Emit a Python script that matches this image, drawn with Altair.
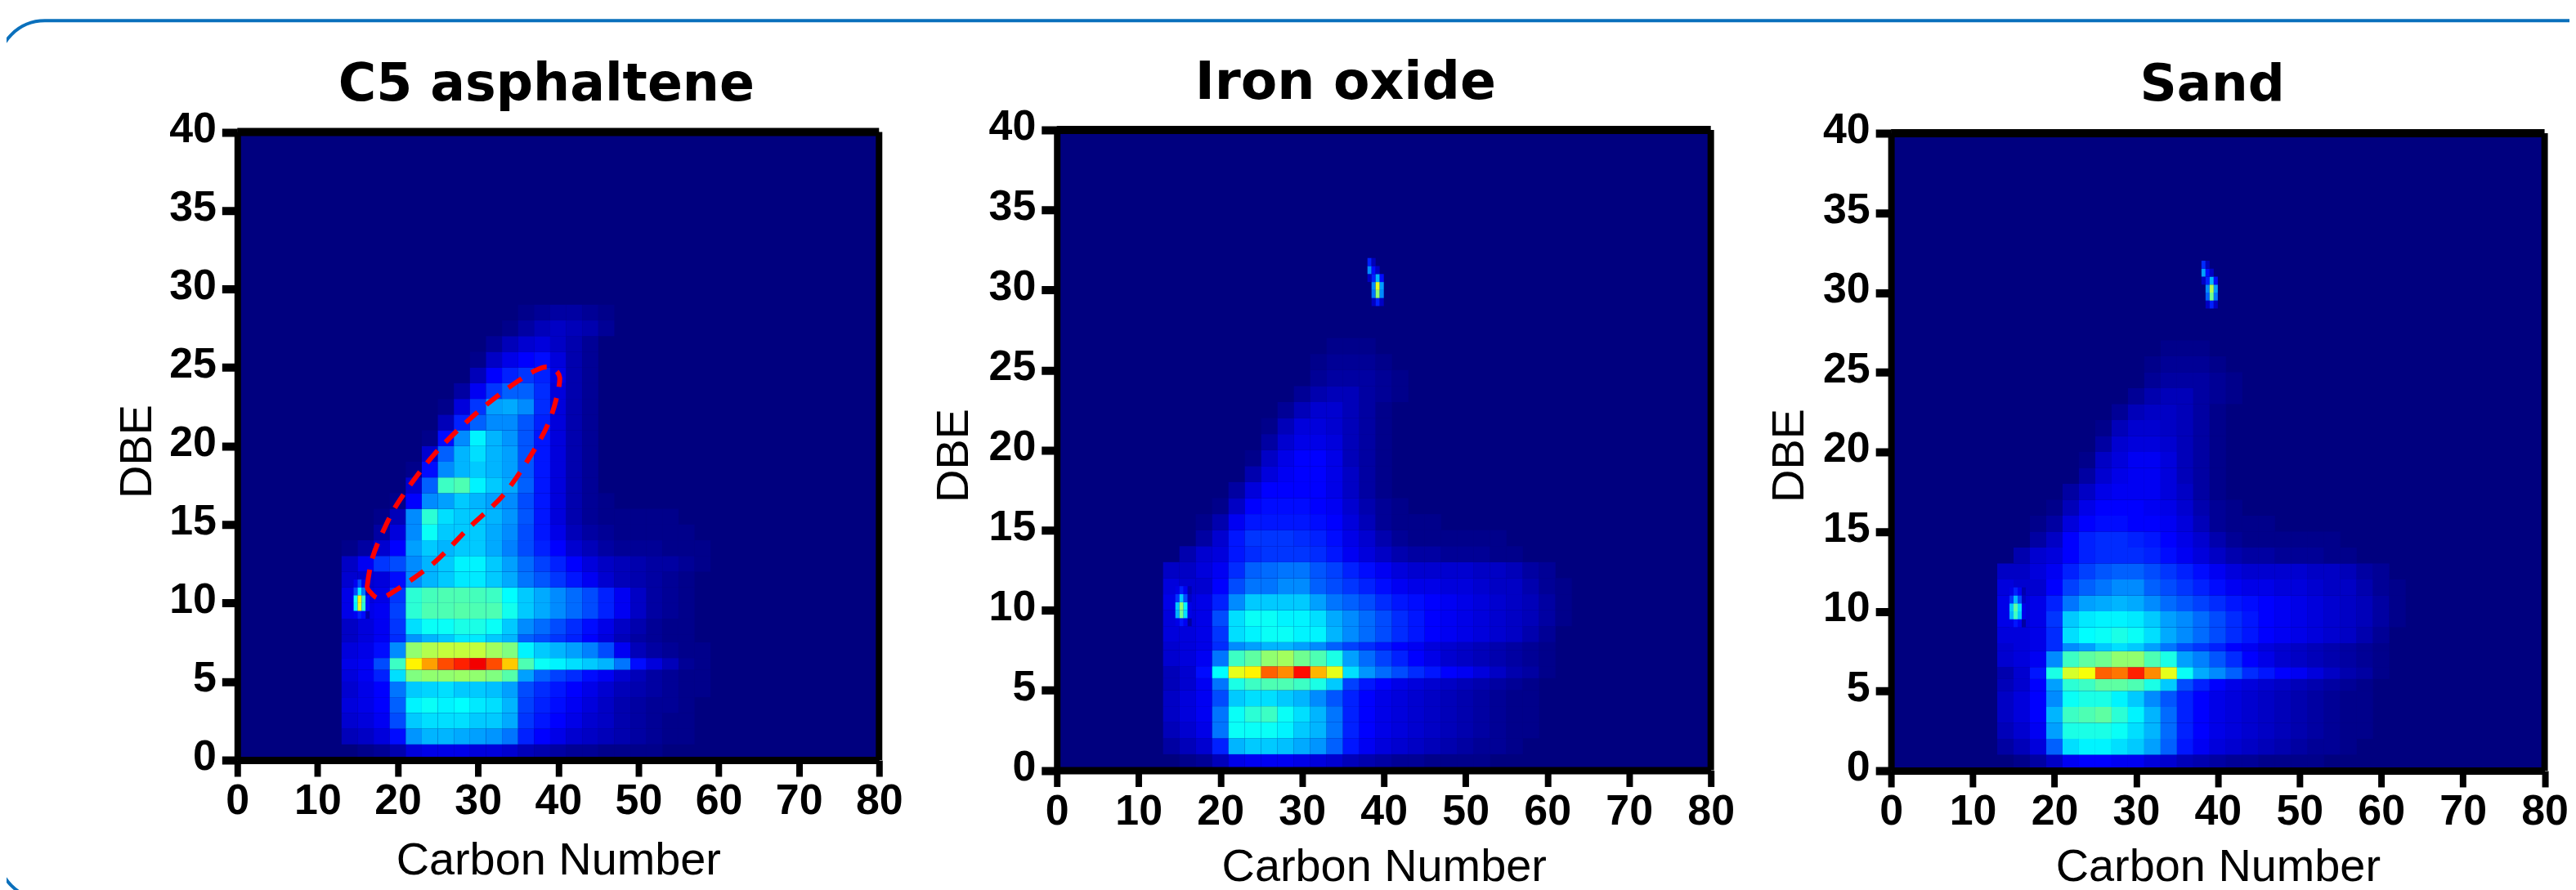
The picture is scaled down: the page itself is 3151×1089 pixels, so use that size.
import altair as alt
import pandas as pd

panel_titles = ["C5 asphaltene", "Iron oxide", "Sand"]
x_ticks = [0, 10, 20, 30, 40, 50, 60, 70, 80]
y_ticks = [0, 5, 10, 15, 20, 25, 30, 35, 40]

carbon_edges = list(range(13, 65, 2))
dbe_edges = [0, 1, 2, 3, 4, 5, 5.75, 6.5, 7.5, 8, 9, 10, 11, 12, 13, 14, 15, 16, 17, 18, 19, 20, 21, 22, 23, 24, 25, 26, 27, 28, 29]

asphaltene_rows = [
    [0, 1, 2, 4, 8, 9, 9, 9, 8, 8, 7, 5, 4, 3, 2, 2, 1, 1, 1, 1],
    [5, 6, 8, 12, 25, 28, 28, 27, 26, 25, 22, 14, 11, 9, 7, 6, 5, 4, 3, 2, 1, 1],
    [7, 8, 10, 18, 30, 32, 32, 32, 30, 30, 27, 16, 13, 11, 9, 7, 6, 4, 3, 2, 1, 1],
    [8, 9, 11, 20, 34, 36, 34, 35, 33, 32, 28, 17, 14, 12, 10, 8, 6, 4, 3, 2, 2, 1],
    [7, 9, 11, 22, 30, 31, 32, 30, 30, 29, 26, 18, 15, 13, 11, 9, 7, 5, 4, 3, 2, 1, 1],
    [8, 10, 14, 32, 50, 52, 52, 53, 52, 50, 45, 26, 20, 17, 15, 12, 10, 7, 5, 3, 2, 1, 1],
    [9, 10, 18, 42, 66, 74, 82, 86, 90, 82, 70, 44, 36, 34, 32, 30, 28, 22, 12, 8, 5, 2, 1],
    [8, 9, 12, 24, 52, 56, 58, 58, 58, 54, 50, 34, 30, 28, 26, 23, 18, 10, 5, 3, 2, 1, 1],
    [6, 8, 10, 15, 25, 28, 30, 33, 33, 30, 28, 20, 18, 16, 14, 11, 8, 5, 3, 2, 1, 1],
    [6, 8, 10, 16, 32, 36, 36, 38, 38, 36, 30, 24, 21, 18, 15, 12, 9, 6, 4, 2, 1, 1],
    [9, 9, 10, 17, 40, 44, 44, 45, 44, 44, 37, 30, 27, 24, 21, 18, 14, 10, 6, 3, 2, 1],
    [9, 8, 9, 16, 40, 43, 44, 44, 43, 42, 35, 30, 27, 24, 21, 18, 14, 10, 6, 3, 2, 1],
    [7, 7, 8, 12, 24, 28, 30, 33, 33, 30, 27, 22, 19, 16, 13, 10, 7, 5, 4, 3, 2, 1],
    [6, 10, 16, 18, 24, 28, 30, 34, 34, 30, 26, 21, 17, 14, 11, 8, 6, 5, 4, 3, 3, 2, 1],
    [1, 3, 7, 11, 26, 30, 28, 30, 30, 27, 23, 18, 14, 11, 7, 5, 3, 2, 2, 2, 1, 1, 1],
    [0, 0, 3, 8, 24, 36, 30, 30, 30, 27, 24, 18, 13, 9, 5, 3, 2, 1, 1, 1, 1, 1],
    [0, 0, 1, 5, 24, 40, 32, 30, 30, 28, 25, 19, 13, 8, 4, 2, 1, 1, 1, 1, 1],
    [0, 0, 0, 1, 11, 24, 26, 30, 28, 26, 24, 18, 13, 8, 4, 2, 1],
    [0, 0, 0, 0, 7, 20, 42, 44, 34, 30, 27, 20, 13, 8, 4, 2],
    [0, 0, 0, 0, 1, 12, 24, 28, 30, 28, 26, 19, 13, 8, 4, 2],
    [0, 0, 0, 0, 0, 7, 20, 28, 32, 28, 26, 19, 13, 8, 4, 2],
    [0, 0, 0, 0, 0, 1, 12, 24, 34, 28, 25, 19, 13, 8, 4, 2],
    [0, 0, 0, 0, 0, 0, 5, 14, 20, 24, 24, 19, 14, 8, 4, 2],
    [0, 0, 0, 0, 0, 0, 1, 8, 16, 26, 27, 24, 15, 8, 4, 2],
    [0, 0, 0, 0, 0, 0, 0, 3, 10, 16, 20, 20, 15, 8, 4, 2],
    [0, 0, 0, 0, 0, 0, 0, 0, 5, 11, 14, 16, 14, 9, 4, 2],
    [0, 0, 0, 0, 0, 0, 0, 0, 1, 6, 9, 11, 12, 8, 4, 2],
    [0, 0, 0, 0, 0, 0, 0, 0, 0, 2, 5, 7, 8, 6, 4, 2],
    [0, 0, 0, 0, 0, 0, 0, 0, 0, 0, 1, 3, 5, 6, 5, 4, 2],
    [0, 0, 0, 0, 0, 0, 0, 0, 0, 0, 0, 1, 2, 3, 3, 2, 1],
]

iron_rows = [
    [0, 1, 2, 5, 9, 10, 10, 10, 9, 8, 7, 5, 4, 3, 2, 2, 1, 1, 1, 1],
    [3, 5, 7, 14, 28, 30, 30, 29, 27, 25, 20, 13, 10, 8, 7, 6, 5, 4, 3, 2, 2, 1],
    [5, 7, 9, 22, 36, 36, 36, 34, 30, 28, 22, 14, 11, 9, 8, 7, 6, 5, 4, 3, 2, 1, 1],
    [6, 8, 10, 22, 36, 40, 42, 36, 32, 28, 22, 14, 11, 9, 8, 7, 6, 5, 4, 3, 2, 1, 1],
    [6, 8, 10, 18, 30, 32, 32, 30, 28, 24, 19, 14, 11, 9, 8, 7, 6, 5, 4, 3, 2, 1, 1],
    [5, 7, 10, 22, 38, 42, 44, 44, 42, 38, 30, 17, 13, 11, 9, 8, 7, 6, 5, 4, 3, 2, 1],
    [5, 7, 12, 35, 62, 66, 80, 76, 88, 72, 62, 32, 25, 21, 18, 15, 13, 11, 10, 8, 6, 4, 3, 1],
    [7, 8, 10, 22, 42, 46, 52, 54, 48, 44, 38, 26, 21, 17, 14, 11, 9, 7, 6, 5, 4, 3, 2, 1],
    [7, 8, 9, 15, 24, 26, 28, 28, 26, 24, 20, 17, 15, 13, 11, 10, 8, 7, 6, 5, 4, 3, 2, 1],
    [8, 8, 9, 16, 32, 34, 36, 36, 34, 34, 28, 24, 21, 18, 15, 13, 11, 10, 9, 8, 7, 6, 4, 2],
    [8, 8, 9, 18, 32, 36, 36, 34, 34, 32, 27, 24, 21, 18, 15, 13, 11, 10, 9, 8, 7, 6, 5, 3, 1],
    [9, 8, 9, 14, 24, 30, 30, 30, 30, 26, 22, 20, 18, 15, 13, 12, 11, 10, 9, 8, 7, 6, 5, 3, 1],
    [8, 7, 7, 11, 18, 22, 22, 24, 24, 20, 18, 16, 14, 12, 10, 9, 9, 8, 8, 7, 6, 6, 4, 2, 1],
    [6, 6, 8, 10, 15, 20, 21, 22, 22, 19, 17, 14, 12, 10, 8, 7, 7, 7, 7, 6, 6, 5, 3, 2],
    [0, 4, 7, 8, 13, 15, 16, 16, 16, 15, 13, 10, 8, 6, 4, 3, 3, 2, 2, 2, 1, 1],
    [0, 0, 3, 7, 13, 16, 16, 16, 15, 14, 12, 9, 7, 4, 2, 1, 1, 1, 1, 1, 1],
    [0, 0, 1, 4, 10, 13, 13, 13, 13, 12, 11, 8, 5, 2, 1, 1, 1],
    [0, 0, 0, 1, 6, 11, 12, 12, 12, 11, 10, 7, 4, 2, 1],
    [0, 0, 0, 0, 3, 8, 11, 11, 11, 11, 9, 6, 3, 1],
    [0, 0, 0, 0, 0, 4, 8, 10, 11, 11, 9, 6, 3, 1],
    [0, 0, 0, 0, 0, 1, 6, 9, 11, 11, 9, 5, 3, 1],
    [0, 0, 0, 0, 0, 0, 3, 7, 9, 9, 8, 5, 3, 1],
    [0, 0, 0, 0, 0, 0, 1, 5, 8, 8, 7, 5, 3, 1],
    [0, 0, 0, 0, 0, 0, 0, 2, 5, 7, 7, 5, 3, 1],
    [0, 0, 0, 0, 0, 0, 0, 0, 2, 4, 5, 5, 3, 2, 1],
    [0, 0, 0, 0, 0, 0, 0, 0, 0, 2, 3, 3, 3, 2, 1],
    [0, 0, 0, 0, 0, 0, 0, 0, 0, 1, 2, 2, 2, 1],
    [0, 0, 0, 0, 0, 0, 0, 0, 0, 0, 1, 1, 1],
    [],
    [],
]

sand_rows = [
    [0, 1, 3, 6, 10, 11, 11, 10, 10, 8, 7, 5, 4, 3, 2, 2, 1, 1, 1, 1],
    [3, 5, 8, 20, 32, 34, 34, 32, 30, 26, 20, 13, 10, 8, 7, 6, 5, 4, 3, 2, 2, 1],
    [5, 7, 10, 26, 38, 38, 38, 36, 32, 28, 21, 14, 11, 9, 8, 7, 6, 5, 4, 3, 2, 1, 1],
    [6, 8, 11, 28, 42, 44, 46, 40, 34, 28, 21, 14, 11, 9, 8, 7, 6, 5, 4, 3, 2, 1, 1],
    [6, 8, 11, 24, 36, 38, 38, 34, 30, 24, 19, 14, 11, 9, 8, 7, 6, 5, 4, 3, 2, 1, 1],
    [5, 7, 11, 26, 40, 42, 46, 46, 44, 38, 30, 18, 14, 11, 9, 8, 7, 6, 5, 4, 3, 2, 1],
    [4, 7, 13, 38, 60, 64, 80, 78, 86, 76, 62, 36, 27, 24, 20, 15, 13, 11, 10, 8, 6, 4, 3, 1],
    [7, 8, 10, 24, 42, 46, 48, 52, 52, 44, 38, 26, 23, 19, 15, 11, 9, 7, 6, 5, 4, 3, 2, 1],
    [7, 8, 9, 15, 24, 26, 30, 32, 30, 26, 22, 18, 16, 14, 11, 10, 8, 7, 6, 5, 4, 3, 2, 1],
    [8, 8, 9, 15, 32, 35, 36, 38, 36, 32, 27, 24, 21, 18, 15, 13, 11, 10, 9, 8, 7, 6, 4, 2],
    [9, 8, 9, 16, 30, 33, 34, 34, 33, 30, 26, 24, 21, 18, 15, 13, 11, 10, 9, 8, 7, 6, 5, 3, 1],
    [9, 8, 9, 14, 22, 26, 27, 28, 27, 24, 21, 19, 17, 15, 13, 12, 11, 10, 9, 8, 7, 6, 5, 3, 1],
    [8, 7, 7, 11, 17, 20, 22, 24, 24, 20, 18, 16, 14, 12, 10, 9, 9, 8, 8, 7, 6, 6, 4, 2, 1],
    [6, 6, 8, 10, 14, 17, 19, 20, 20, 18, 16, 14, 12, 10, 8, 7, 7, 7, 7, 6, 6, 5, 3, 2],
    [0, 4, 7, 8, 11, 14, 15, 15, 15, 14, 12, 10, 8, 6, 4, 3, 3, 2, 2, 2, 1, 1],
    [0, 0, 3, 6, 11, 14, 15, 15, 14, 13, 11, 9, 7, 4, 2, 1, 1, 1, 1, 1, 1],
    [0, 0, 1, 3, 8, 11, 12, 12, 11, 11, 10, 8, 5, 2, 1, 1, 1],
    [0, 0, 0, 1, 5, 9, 11, 11, 11, 10, 9, 7, 4, 2, 1],
    [0, 0, 0, 0, 3, 6, 9, 10, 10, 10, 8, 6, 3, 1],
    [0, 0, 0, 0, 0, 3, 7, 9, 10, 10, 8, 5, 3, 1],
    [0, 0, 0, 0, 0, 1, 6, 8, 10, 10, 8, 5, 3, 1],
    [0, 0, 0, 0, 0, 0, 3, 7, 8, 8, 7, 5, 3, 1],
    [0, 0, 0, 0, 0, 0, 1, 5, 7, 7, 6, 5, 3, 1],
    [0, 0, 0, 0, 0, 0, 0, 2, 5, 6, 6, 5, 3, 1],
    [0, 0, 0, 0, 0, 0, 0, 0, 2, 4, 5, 5, 3, 2, 1],
    [0, 0, 0, 0, 0, 0, 0, 0, 0, 2, 3, 3, 3, 2, 1],
    [0, 0, 0, 0, 0, 0, 0, 0, 0, 1, 2, 2, 2, 1],
    [0, 0, 0, 0, 0, 0, 0, 0, 0, 0, 1, 1, 1],
    [],
    [],
]

# small bright spots, on a half-unit grid
spot_low_carbon = [14.5, 15, 15.5, 16, 16.5]
spot_low_dbe = [9, 9.5, 10, 10.5, 11, 11.5]
spot_low_asphaltene = [[10, 14, 12, 4], [34, 62, 40, 12], [36, 66, 42, 12], [18, 34, 22, 6], [10, 18, 10, 4]]
spot_low_iron = [[9, 13, 10, 3], [28, 48, 32, 9], [30, 52, 34, 9], [16, 30, 18, 6], [9, 14, 10, 4]]
spot_low_sand = [[9, 13, 10, 3], [28, 42, 30, 9], [30, 46, 32, 9], [16, 28, 18, 6], [9, 14, 10, 4]]

spot_high_carbon = [38, 38.5, 39, 39.5, 40]
spot_high_dbe = [29, 29.5, 30, 30.5, 31, 31.5, 32]
spot_high_iron = [[0, 6, 14, 6], [0, 22, 52, 24], [0, 24, 62, 26], [6, 14, 28, 12], [24, 12, 6, 0], [14, 5, 0, 0]]
spot_high_sand = [[0, 6, 14, 6], [0, 20, 48, 22], [0, 24, 56, 26], [6, 14, 28, 12], [26, 12, 6, 0], [15, 5, 0, 0]]

ellipse_carbon = [16.2, 16.8, 18.2, 20.3, 24.6, 29.6, 34.6, 38.1, 39.9, 40.1, 38.9, 36.7, 33.2, 28.9, 24.6, 20.3, 17.8, 16.4, 16.2]
ellipse_dbe = [11.1, 12.8, 14.6, 16.6, 19.5, 22.0, 24.0, 25.0, 24.7, 23.8, 21.6, 19.5, 16.9, 14.8, 12.6, 11.0, 10.3, 10.8, 11.1]

LEVELS = [0, 11, 23, 35, 50, 65, 77, 89, 100]
JET = ["#00007f", "#0000ff", "#0080ff", "#00ffff", "#80ff80", "#ffff00", "#ff8000", "#ff0000", "#800000"]
FONT = "Liberation Sans"
W, H = 3143, 1081
OFF = 8  # page margin


def cells(c_edges, d_edges, rows):
    out = []
    for j, row in enumerate(rows):
        for i, v in enumerate(row):
            if v > 0:
                out.append({"c": c_edges[i], "c2": c_edges[i + 1], "d": d_edges[j], "d2": d_edges[j + 1], "v": v})
    return pd.DataFrame(out)


def panel(rows, low, high, xr, yr, title, title_x, title_y, title_size, dbe_x, dbe_y, cn_y, outline=None):
    # xr / yr are pixel ranges of the plot frame inside the chart
    x_scale = alt.Scale(domain=[0, 80], range=xr, nice=False, zero=False)
    y_scale = alt.Scale(domain=[0, 40], range=yr, nice=False, zero=False)
    x_axis = alt.Axis(
        orient="bottom", offset=yr[0] - H, values=x_ticks, grid=False, zindex=2,
        domainColor="black", domainWidth=9, tickColor="black", tickWidth=8, tickSize=20,
        labelFont=FONT, labelFontWeight="bold", labelFontSize=52, labelColor="black", labelPadding=5,
        labelBaseline="top", labelFlush=False, labelOverlap=False,
        title="Carbon Number", titleFont=FONT, titleFontWeight="normal", titleFontSize=56, titleColor="black",
        titleY=cn_y - yr[0], titleBaseline="alphabetic",
    )
    y_axis = alt.Axis(
        orient="left", offset=-xr[0], values=y_ticks, grid=False, zindex=2,
        domainColor="black", domainWidth=8, tickColor="black", tickWidth=10, tickSize=19,
        labelFont=FONT, labelFontWeight="bold", labelFontSize=52, labelColor="black", labelPadding=7,
        labelOffset=-4, labelFlush=False, labelOverlap=False,
        title="DBE", titleFont=FONT, titleFontWeight="normal", titleFontSize=56, titleColor="black",
        titleX=dbe_x - xr[0], titleY=dbe_y, titleAngle=270, titleBaseline="alphabetic", titleAlign="center",
    )
    cscale = alt.Scale(domain=LEVELS, range=JET, interpolate="rgb")
    X = alt.X("c:Q", scale=x_scale, axis=x_axis)
    Y = alt.Y("d:Q", scale=y_scale, axis=y_axis)

    frame = pd.DataFrame({"c": [0], "c2": [80], "d": [0], "d2": [40]})
    layers = [alt.Chart(frame).mark_rect(color=JET[0]).encode(x=X, x2="c2:Q", y=Y, y2="d2:Q")]
    for df in [cells(carbon_edges, dbe_edges, rows), low, high]:
        if df is None:
            continue
        layers.append(
            alt.Chart(df).mark_rect(strokeWidth=0).encode(
                x=X, x2="c2:Q", y=Y, y2="d2:Q",
                color=alt.Color("v:Q", scale=cscale, legend=None),
            )
        )
    top = pd.DataFrame({"c": [0], "c2": [80], "d": [40]})
    layers.append(alt.Chart(top).mark_rule(color="black", strokeWidth=10).encode(x=X, x2="c2:Q", y=Y))
    right = pd.DataFrame({"c": [80], "d": [0], "d2": [40]})
    layers.append(alt.Chart(right).mark_rule(color="black", strokeWidth=8).encode(x=X, y=Y, y2="d2:Q"))
    if outline is not None:
        layers.append(
            alt.Chart(outline).mark_line(
                color="#ff0000", strokeWidth=6, strokeDash=[20, 14], interpolate="cardinal"
            ).encode(x=X, y=Y, order="i:Q")
        )
    layers.append(
        alt.Chart(pd.DataFrame({"t": [title]})).mark_text(
            font="DejaVu Sans", fontWeight="bold", fontSize=title_size, color="black", baseline="alphabetic", align="center"
        ).encode(x=alt.value(title_x), y=alt.value(title_y), text="t:N")
    )
    return alt.layer(*layers).resolve_axis(x="shared", y="shared")


ellipse_df = pd.DataFrame({"c": ellipse_carbon, "d": ellipse_dbe, "i": range(len(ellipse_dbe))})

p1 = panel(asphaltene_rows, cells(spot_low_carbon, spot_low_dbe, spot_low_asphaltene), None,
           [291 - OFF, 1078 - OFF], [931 - OFF, 160.5 - OFF], panel_titles[0],
           670 - OFF, 122 - OFF, 63.5, 185 - OFF, 552 - OFF, 1063, outline=ellipse_df)
p2 = panel(iron_rows, cells(spot_low_carbon, spot_low_dbe, spot_low_iron), cells(spot_high_carbon, spot_high_dbe, spot_high_iron),
           [1296 - OFF, 2098 - OFF], [943.5 - OFF, 158 - OFF], panel_titles[1],
           1650 - OFF, 119.5 - OFF, 65, 1186 - OFF, 557 - OFF, 1071)
p3 = panel(sand_rows, cells(spot_low_carbon, spot_low_dbe, spot_low_sand), cells(spot_high_carbon, spot_high_dbe, spot_high_sand),
           [2319 - OFF, 3120.5 - OFF], [944 - OFF, 162 - OFF], panel_titles[2],
           2713 - OFF, 122 - OFF, 63, 2211 - OFF, 557 - OFF, 1071)

border = alt.Chart(pd.DataFrame({"a": [1]})).mark_rect(
    fillOpacity=0, stroke="#0a70bc", strokeWidth=4, cornerRadius=58
).encode(x=alt.value(-11), x2=alt.value(3300), y=alt.value(16), y2=alt.value(1094))

chart = (
    alt.layer(border, p1, p2, p3)
    .resolve_scale(x="independent", y="independent", color="independent")
    .resolve_axis(x="independent", y="independent")
    .properties(width=W, height=H, padding=0, background="white",
                autosize=alt.AutoSizeParams(type="none"))
    .configure_view(stroke=None)
)
chart.save("out.html", embed_options={"renderer": "svg", "actions": False})
